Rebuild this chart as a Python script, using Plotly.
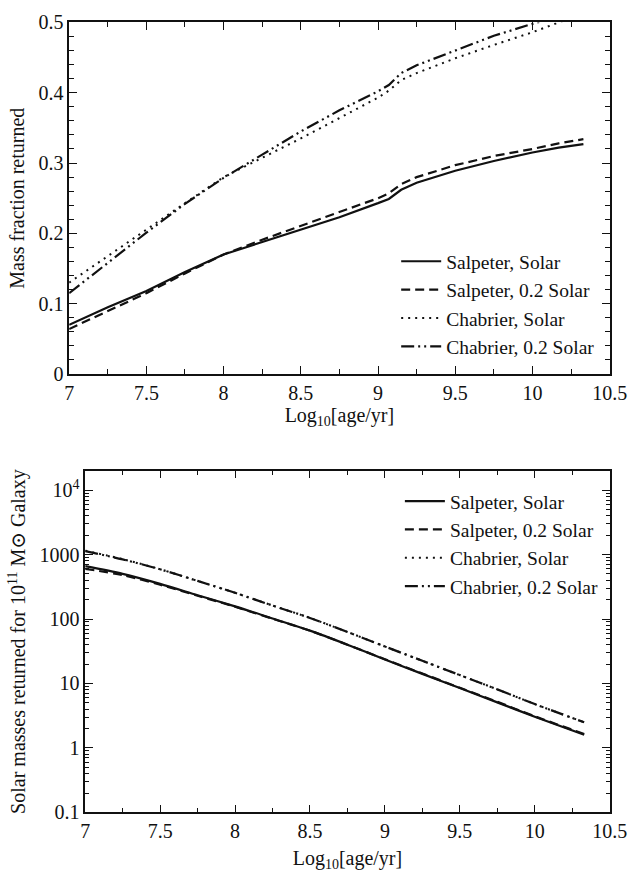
import plotly.graph_objects as go

# ---------- data ----------
series_names = ["Salpeter, Solar", "Salpeter, 0.2 Solar", "Chabrier, Solar", "Chabrier, 0.2 Solar"]

# top panel: mass fraction returned
age_top = [7.0, 7.25, 7.5, 7.75, 8.0, 8.25, 8.5, 8.75, 9.0, 9.07, 9.15, 9.25, 9.5, 9.75, 10.0, 10.17, 10.33]
frac_salp_solar = [0.070, 0.095, 0.118, 0.145, 0.170, 0.188, 0.206, 0.223, 0.243, 0.249, 0.262, 0.272, 0.289, 0.303, 0.315, 0.322, 0.327]
frac_salp_02 = [0.064, 0.090, 0.115, 0.143, 0.170, 0.191, 0.211, 0.230, 0.250, 0.257, 0.270, 0.280, 0.297, 0.310, 0.320, 0.328, 0.334]
frac_chab_solar = [0.130, 0.168, 0.205, 0.243, 0.280, 0.307, 0.335, 0.364, 0.393, 0.403, 0.418, 0.428, 0.449, 0.468, 0.486, 0.500, 0.512]
frac_chab_02 = [0.115, 0.158, 0.201, 0.242, 0.279, 0.312, 0.345, 0.375, 0.402, 0.411, 0.428, 0.439, 0.460, 0.481, 0.498, 0.508, 0.518]

# bottom panel: solar masses returned for a 1e11 Msun galaxy
age_bot = [7.0, 7.25, 7.5, 7.75, 8.0, 8.25, 8.5, 8.75, 9.0, 9.25, 9.5, 9.75, 10.0, 10.33]
mass_salp_solar = [660, 502, 351, 234, 157, 102, 66, 40, 23.6, 14.1, 8.5, 5.1, 3.05, 1.6]
mass_salp_02 = [600, 480, 340, 230, 155, 101, 66, 40, 23.8, 14.3, 8.6, 5.2, 3.1, 1.65]
mass_chab_solar = [1150, 850, 592, 390, 255, 162, 104, 63, 37.5, 22.5, 13.5, 8.1, 4.8, 2.5]
mass_chab_02 = [1130, 840, 590, 390, 255, 162, 104, 63, 37.5, 22.5, 13.5, 8.1, 4.8, 2.5]

top_ticks_y = [0, 0.1, 0.2, 0.3, 0.4, 0.5]
top_ticktext_y = ["0", "0.1", "0.2", "0.3", "0.4", "0.5"]
x_tickvals = [7, 7.5, 8, 8.5, 9, 9.5, 10, 10.5]
x_ticktext = ["7", "7.5", "8", "8.5", "9", "9.5", "10", "10.5"]
bot_tickvals = [0.1, 1, 10, 100, 1000, 10000]
bot_ticktext = ["0.1", "1", "10", "100", "1000", "10<sup>4</sup>"]

# ---------- styling ----------
FONT = "Liberation Serif, Times New Roman, DejaVu Serif, serif"
INK = "#111111"
dashes = ["solid", "9px,5px", "2px,5px", "13px,4px,2px,4px,2px,4px"]
widths = [2.2, 2.2, 2.0, 2.2]

fig = go.Figure()

top_sets = [frac_salp_solar, frac_salp_02, frac_chab_solar, frac_chab_02]
for name, ys, d, w in zip(series_names, top_sets, dashes, widths):
    fig.add_trace(go.Scatter(x=age_top, y=ys, mode="lines", name=name,
                             line=dict(color=INK, width=w, dash=d),
                             xaxis="x", yaxis="y", legend="legend"))

bot_sets = [mass_salp_solar, mass_salp_02, mass_chab_solar, mass_chab_02]
for name, ys, d, w in zip(series_names, bot_sets, dashes, widths):
    fig.add_trace(go.Scatter(x=age_bot, y=ys, mode="lines", name=name,
                             line=dict(color=INK, width=w, dash=d, shape="spline", smoothing=0.8),
                             xaxis="x2", yaxis="y2", legend="legend2"))

axis_common = dict(showline=True, linecolor=INK, linewidth=1.5, mirror="ticks",
                   ticks="inside", ticklen=8, tickwidth=1.2, tickcolor=INK,
                   showgrid=False, zeroline=False, ticklabeloverflow="allow",
                   tickfont=dict(family=FONT, size=20, color=INK))
title_font = dict(family=FONT, size=20, color=INK)
legend_font = dict(family=FONT, size=19.5, color=INK)

fig.update_layout(
    width=639, height=881,
    margin=dict(l=0, r=0, t=0, b=0),
    paper_bgcolor="white", plot_bgcolor="white",
    showlegend=True,
    xaxis=dict(domain=[0.1040, 0.980], anchor="y", range=[7, 10.5],
               tickmode="array", tickvals=x_tickvals, ticktext=x_ticktext,
               minor=dict(ticks="inside", dtick=0.25, tick0=7, ticklen=5, tickcolor=INK),
               title=dict(text="Log<sub>10</sub>[age/yr]", font=title_font, standoff=4),
               **axis_common),
    yaxis=dict(domain=[0.5774, 0.9867], anchor="x", range=[0, 0.5],
               tickmode="array", tickvals=top_ticks_y, ticktext=top_ticktext_y,
               minor=dict(ticks="inside", dtick=0.02, tick0=0, ticklen=5, tickcolor=INK),
               title=dict(text="Mass fraction returned", font=title_font, standoff=8),
               **axis_common),
    xaxis2=dict(domain=[0.130, 0.980], anchor="y2", range=[7, 10.5],
                tickmode="array", tickvals=x_tickvals, ticktext=x_ticktext,
                minor=dict(ticks="inside", dtick=0.25, tick0=7, ticklen=5, tickcolor=INK),
                title=dict(text="Log<sub>10</sub>[age/yr]", font=title_font, standoff=10),
                **axis_common),
    yaxis2=dict(domain=[0.0670, 0.4648], anchor="x2", type="log", range=[-1, 4.3],
                tickmode="array", tickvals=bot_tickvals, ticktext=bot_ticktext,
                minor=dict(ticks="inside", dtick="D1", ticklen=4, tickcolor=INK),
                title=dict(text="Solar masses returned for 10<sup>11</sup> M⊙ Galaxy",
                           font=title_font, standoff=8),
                **axis_common),
    legend=dict(x=0.634, y=0.731, xanchor="left", yanchor="top",
                bgcolor="rgba(0,0,0,0)", font=legend_font,
                tracegroupgap=0, itemwidth=40),
    legend2=dict(x=0.640, y=0.4518, xanchor="left", yanchor="top",
                 bgcolor="rgba(0,0,0,0)", font=legend_font,
                 tracegroupgap=0, itemwidth=40),
)

fig.write_html("out.html")
